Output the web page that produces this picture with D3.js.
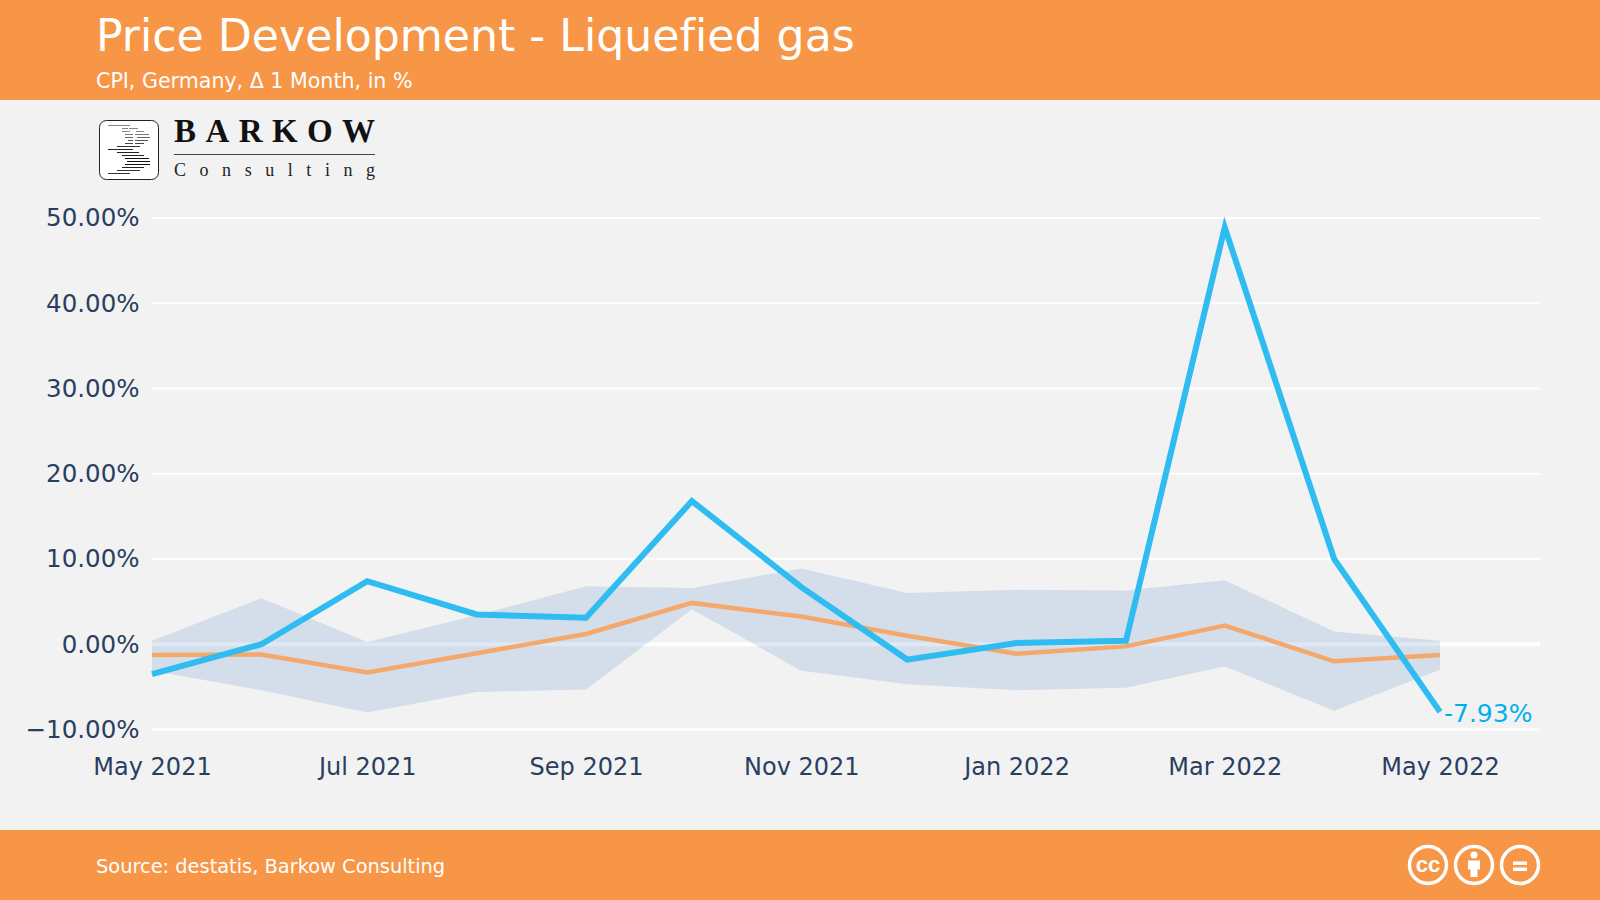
<!DOCTYPE html>
<html>
<head>
<meta charset="utf-8">
<script src="https://cdn.jsdelivr.net/npm/d3@7"></script>
<style>
html, body { margin: 0; padding: 0; background: #f2f2f2; }
svg { display: block; }
text { font-family: "DejaVu Sans", sans-serif; font-variant-ligatures: none; }
</style>
</head>
<body>
<svg width="1600" height="900"></svg>
<script>
// data
var months = ["2021-05-01","2021-06-01","2021-07-01","2021-08-01","2021-09-01","2021-10-01","2021-11-01","2021-12-01","2022-01-01","2022-02-01","2022-03-01","2022-04-01","2022-05-01"];
var gas = [-3.5, 0.0, 7.4, 3.5, 3.1, 16.8, 6.7, -1.8, 0.15, 0.4, 48.9, 10.0, -7.93];
var cpi = [-1.25, -1.2, -3.3, -1.05, 1.2, 4.85, 3.25, 1.0, -1.1, -0.25, 2.2, -2.0, -1.25];
var upper = [0.4, 5.4, 0.25, 3.4, 6.8, 6.6, 8.9, 6.0, 6.4, 6.3, 7.5, 1.5, 0.4];
var lower = [-3.1, -5.4, -8.0, -5.6, -5.3, 4.1, -3.1, -4.7, -5.4, -5.1, -2.6, -7.8, -3.0];
var yTicks = [-10, 0, 10, 20, 30, 40, 50];
var xTicks = ["2021-05-01","2021-07-01","2021-09-01","2021-11-01","2022-01-01","2022-03-01","2022-05-01"];

var orange = "#f79646", ink = "#2a3f5f";
var parse = d3.utcParse("%Y-%m-%d");
var dates = months.map(parse);

var svg = d3.select("svg");

// header and footer
svg.append("rect").attr("width", 1600).attr("height", 100).attr("fill", orange);
svg.append("rect").attr("y", 830).attr("width", 1600).attr("height", 70).attr("fill", orange);
svg.append("text").attr("x", 96).attr("y", 51).attr("font-size", 44.2).attr("fill", "#fff").text("Price Development - Liquefied gas");
svg.append("text").attr("x", 96).attr("y", 88).attr("font-size", 20.6).attr("fill", "#fff").text("CPI, Germany, Δ 1 Month, in %");
svg.append("text").attr("x", 96).attr("y", 873).attr("font-size", 19.4).attr("fill", "#fff").text("Source: destatis, Barkow Consulting");

// scales
var x = d3.scaleUtc().domain([dates[0], dates[12]]).range([152, 1440]);
var y = d3.scaleLinear().domain([-10, 50]).range([729.5, 218]);

// grid
svg.append("g").selectAll("line").data(yTicks).enter().append("line")
	.attr("x1", 152).attr("x2", 1540)
	.attr("y1", function(d) { return y(d); })
	.attr("y2", function(d) { return y(d); })
	.attr("stroke", "#fff")
	.attr("stroke-width", function(d) { return d === 0 ? 4 : 2; });

// axes
var yAxis = d3.axisLeft(y).tickValues(yTicks).tickSize(0).tickPadding(12.5)
	.tickFormat(function(d) { return (d < 0 ? "\u2212" : "") + Math.abs(d).toFixed(2) + "%"; });
var gy = svg.append("g").attr("transform", "translate(152,0)").call(yAxis);
var xAxis = d3.axisBottom(x).tickValues(xTicks.map(parse)).tickSize(0).tickPadding(0)
	.tickFormat(d3.utcFormat("%b %Y"));
var gx = svg.append("g").attr("transform", "translate(0,758)").call(xAxis);
gy.select(".domain").remove();
gx.select(".domain").remove();
gy.selectAll("text").attr("font-size", 24.5).attr("font-family", "DejaVu Sans").attr("fill", ink);
gx.selectAll("text").attr("font-size", 24).attr("font-family", "DejaVu Sans").attr("fill", ink);

// band
var area = d3.area()
	.x(function(d, i) { return x(dates[i]); })
	.y0(function(d, i) { return y(lower[i]); })
	.y1(function(d) { return y(d); });
svg.append("path").datum(upper).attr("d", area).attr("fill", "rgb(90,147,207)").attr("fill-opacity", 0.2);

// lines
var line = d3.line()
	.x(function(d, i) { return x(dates[i]); })
	.y(function(d) { return y(d); });
svg.append("path").datum(cpi).attr("d", line).attr("fill", "none").attr("stroke", "#f5a86b").attr("stroke-width", 4.5);
svg.append("path").datum(gas).attr("d", line).attr("fill", "none").attr("stroke", "#2fbcf0").attr("stroke-width", 6);

// end label
svg.append("text").attr("x", x(dates[12]) + 4).attr("y", y(gas[12]) + 10)
	.attr("font-size", 25).attr("fill", "#00b0f0").text(gas[12].toFixed(2) + "%");

// logo
var logo = svg.append("g");
logo.append("rect").attr("x", 99.5).attr("y", 120.5).attr("width", 59).attr("height", 59).attr("rx", 7)
	.attr("fill", "#fff").attr("stroke", "#222").attr("stroke-width", 1);
var logoBars = [[108,130,125.5,"#888"],[122,128,128.5,"#888"],[129,138,128.5,"#888"],[122,130,131.5,"#888"],[136,144,131.5,"#888"],
	[125,133,134.5,"#777"],[135,149,134.5,"#777"],[125,133,137.5,"#666"],[137,150,137.5,"#666"],[128,133,140.5,"#555"],[135,148,140.5,"#555"],
	[125,133,143.5,"#444"],[135,144,143.5,"#444"],[117,130,146.5,"#333"],[129,140,146.5,"#333"],[108,133,149.5,"#222"],[117,139,152.5,"#222"],
	[122,144,155.5,"#222"],[125,149,158.5,"#111"],[127,150,161.5,"#111"],[125,150,164.5,"#111"],[122,144,167.5,"#222"],[117,140,170.5,"#333"],[108,130,173.5,"#333"]];
logo.selectAll("line").data(logoBars).enter().append("line")
	.attr("x1", function(d) { return d[0]; }).attr("x2", function(d) { return d[1]; })
	.attr("y1", function(d) { return d[2]; }).attr("y2", function(d) { return d[2]; })
	.attr("stroke", function(d) { return d[3]; }).attr("stroke-width", 1);
logo.append("text").attr("x", 174).attr("y", 142).attr("font-size", 33).attr("font-weight", "bold")
	.style("font-family", "Liberation Serif").attr("textLength", 201).attr("fill", "#111").text("BARKOW");
logo.append("line").attr("x1", 174).attr("x2", 375).attr("y1", 154.5).attr("y2", 154.5).attr("stroke", "#444").attr("stroke-width", 1);
logo.append("text").attr("x", 174).attr("y", 176).attr("font-size", 18)
	.style("font-family", "Liberation Serif").attr("textLength", 201).attr("fill", "#222").text("Consulting");

// cc badges
var badgeX = [1428, 1474, 1520];
svg.selectAll("circle.badge").data(badgeX).enter().append("circle").attr("class", "badge")
	.attr("cx", function(d) { return d; }).attr("cy", 865).attr("r", 18.5)
	.attr("fill", "none").attr("stroke", "#fff").attr("stroke-width", 3.5);
svg.append("text").attr("x", 1428).attr("y", 872).attr("text-anchor", "middle").attr("font-size", 22).attr("font-weight", "bold")
	.style("font-family", "Liberation Sans").attr("fill", "#fff").text("cc");
svg.append("circle").attr("cx", 1474).attr("cy", 855).attr("r", 3.5).attr("fill", "#fff");
svg.append("path").attr("d", "M1468 860.5h12v9h-2.5v7.5h-7v-7.5h-2.5z").attr("fill", "#fff");
svg.append("rect").attr("x", 1513).attr("y", 861.5).attr("width", 14).attr("height", 3.5).attr("fill", "#fff");
svg.append("rect").attr("x", 1513).attr("y", 867.5).attr("width", 14).attr("height", 3.5).attr("fill", "#fff");
</script>
</body>
</html>
